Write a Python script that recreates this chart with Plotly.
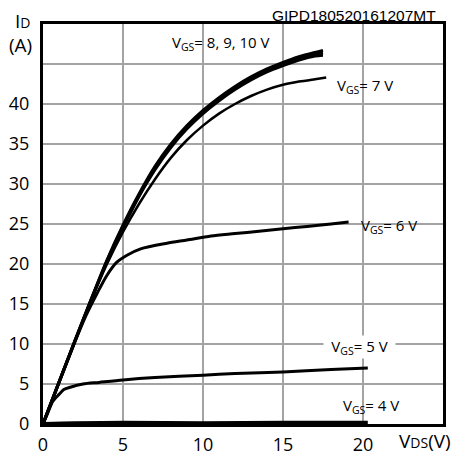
import plotly.graph_objects as go

# ---- data ----
vds_main = [0, 1, 2, 3, 4, 5, 6, 7, 8, 9, 10, 11, 12, 13, 14, 15, 16, 17, 17.5]
id_vgs8 = [0, 5.2, 10.35, 15.45, 20.3, 24.55, 28.45, 31.8, 34.6, 36.9, 38.8, 40.4, 41.8, 43.0, 44.0, 44.8, 45.5, 46.0, 46.1]
id_vgs9 = [0, 5.2, 10.4, 15.5, 20.4, 24.7, 28.6, 32.0, 34.8, 37.1, 39.0, 40.6, 42.0, 43.2, 44.2, 45.0, 45.7, 46.2, 46.4]
id_vgs10 = [0, 5.25, 10.45, 15.55, 20.5, 24.85, 28.75, 32.2, 35.0, 37.3, 39.2, 40.8, 42.2, 43.4, 44.4, 45.2, 45.9, 46.45, 46.7]

vds_7 = [0, 1, 2, 3, 4, 5, 6, 7, 8, 9, 10, 11, 12, 13, 14, 15, 16, 17, 17.7]
id_vgs7 = [0, 5.2, 10.4, 15.4, 20.0, 24.0, 27.5, 30.6, 33.3, 35.5, 37.3, 38.8, 40.0, 41.0, 41.8, 42.4, 42.8, 43.1, 43.3]

vds_6 = [0, 1, 2, 2.7, 3.4, 4.0, 4.6, 5.25, 6.1, 7.75, 9, 10.5, 12, 13.5, 15, 16.5, 18, 19.1]
id_vgs6 = [0, 5.2, 10.3, 13.6, 16.4, 18.6, 20.2, 21.1, 21.9, 22.6, 23.0, 23.5, 23.8, 24.1, 24.4, 24.7, 25.0, 25.25]

vds_5 = [0, 0.3, 0.6, 1.0, 1.3, 1.7, 2.5, 3.5, 5, 7, 10, 12, 15, 18, 20.3]
id_vgs5 = [0, 1.4, 2.8, 3.7, 4.3, 4.6, 5.0, 5.2, 5.5, 5.8, 6.1, 6.3, 6.5, 6.8, 7.0]

vds_4 = [0, 2, 5, 10, 15, 20.3]
id_vgs4 = [0, 0.1, 0.15, 0.1, 0.15, 0.15]

x_ticks = [0, 5, 10, 15, 20, 25]
x_ticktext = ["0", "5", "10", "15", "20", ""]
y_ticks = [0, 5, 10, 15, 20, 25, 30, 35, 40, 45, 50]
y_ticktext = ["0", "5", "10", "15", "20", "25", "30", "35", "40", "", ""]

curves = [
    (vds_4, id_vgs4, 4),
    (vds_5, id_vgs5, 3),
    (vds_6, id_vgs6, 3),
    (vds_7, id_vgs7, 2.5),
    (vds_main, id_vgs8, 3),
    (vds_main, id_vgs9, 3),
    (vds_main, id_vgs10, 3),
]

fig = go.Figure()
for xs, ys, w in curves:
    fig.add_trace(go.Scatter(x=xs, y=ys, mode="lines",
                             line=dict(color="black", width=w, shape="spline", smoothing=0.8),
                             showlegend=False, hoverinfo="skip"))

FONT = "Open Sans"
axis_common = dict(showline=True, mirror=True, linewidth=3, linecolor="black",
                   showgrid=True, gridcolor="#a3a3a3", gridwidth=1.5, zeroline=False,
                   automargin=False, ticks="",
                   tickfont=dict(family=FONT, size=18, color="black"))

W, H = 455, 454
L, R, T, B = 43, 12, 24, 30

fig.update_layout(
    width=W, height=H,
    margin=dict(l=L, r=R, t=T, b=B, autoexpand=False),
    paper_bgcolor="white", plot_bgcolor="white",
    xaxis=dict(range=[0, 25], tickvals=x_ticks, ticktext=x_ticktext,
               ticklabelstandoff=2, **axis_common),
    yaxis=dict(range=[0, 50], tickvals=y_ticks, ticktext=y_ticktext,
               ticklabelstandoff=7, **axis_common),
)

ann_font = dict(family=FONT, size=15, color="black")
labels = [
    (11.15, 47.6, "center", "V<sub>GS</sub>= 8, 9, 10 V", None),
    (18.27, 42.2, "left", "V<sub>GS</sub>= 7 V", None),
    (19.73, 24.8, "left", "V<sub>GS</sub>= 6 V", None),
    (19.8, 9.6, "center", "V<sub>GS</sub>= 5 V", "white"),
    (18.63, 2.2, "left", "V<sub>GS</sub>= 4 V", None),
]
for x, y, anchor, text, bg in labels:
    kw = dict(x=x, y=y, xref="x", yref="y", text=text, showarrow=False,
              xanchor=anchor, yanchor="middle", font=ann_font)
    if bg:
        kw.update(bgcolor=bg, width=71, borderpad=0)
    fig.add_annotation(**kw)

# axis titles and figure id (positions given in page pixels, converted below)
paper_notes = [
    (22, 21, "center", "I<span style='font-size:14px'>D</span>", FONT, 19),
    (20, 45, "center", "(A)", FONT, 19),
    (425, 441, "center", "V<span style='font-size:14px'>DS</span>(V)", FONT, 19),
    (438, 15, "right", "GIPD180520161207MT", "Liberation Sans", 15.5),
]
pw, ph = W - L - R, H - T - B
for px, py, anchor, text, fam, size in paper_notes:
    fig.add_annotation(x=(px - L) / pw, y=1 - (py - T) / ph, xref="paper", yref="paper",
                       xanchor=anchor, yanchor="middle", showarrow=False, text=text,
                       font=dict(family=fam, size=size, color="black"))

fig.write_html("out.html")
